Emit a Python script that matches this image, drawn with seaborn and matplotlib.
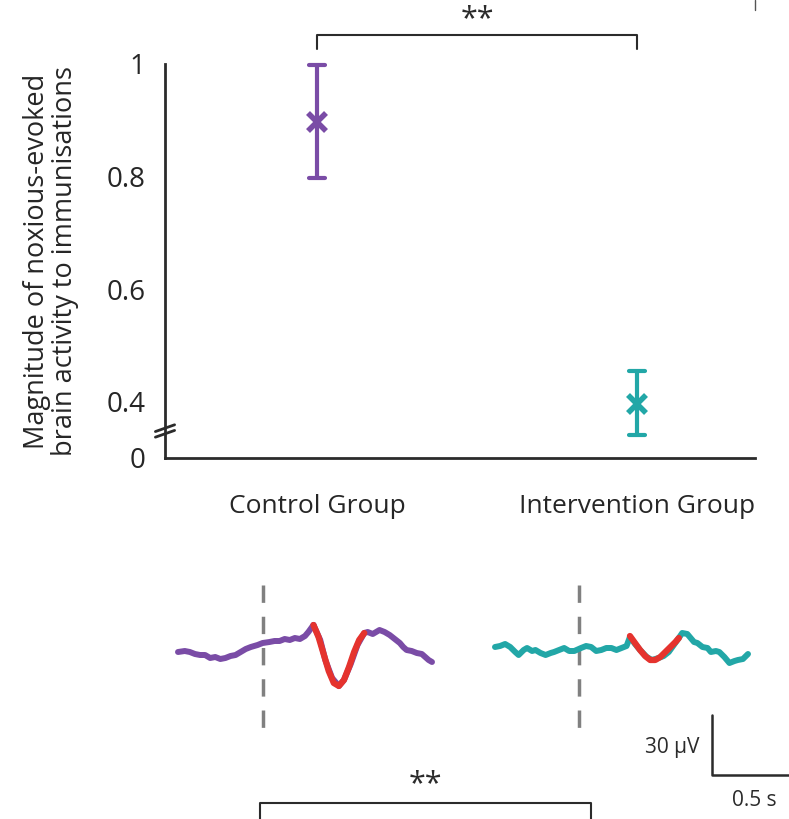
import matplotlib
matplotlib.use("Agg")
import matplotlib.pyplot as plt
import seaborn as sns
import pandas as pd
from matplotlib.lines import Line2D

# group summary values (mean with lower / upper limits of the error bar)
groups = ["Control Group", "Intervention Group"]
means = [0.897, 0.396]
lower = [0.797, 0.340]
upper = [0.998, 0.455]

# averaged traces (time in s, amplitude in µV)
control_t = [-0.50, -0.46, -0.43, -0.40, -0.37, -0.34, -0.31, -0.28, -0.25, -0.22,
             -0.19, -0.16, -0.13, -0.10, -0.07, -0.03, 0.00, 0.04, 0.07, 0.10,
             0.13, 0.16, 0.19, 0.22, 0.25, 0.27, 0.30]
control_a = [-1.0, -0.5, -1.0, -2.0, -2.5, -2.5, -4.0, -3.5, -4.5, -4.0,
             -3.0, -2.5, -1.0, 0.5, 1.5, 2.5, 3.5, 4.0, 4.5, 4.5,
             5.5, 5.0, 6.0, 5.5, 7.0, 9.0, 12.5]
control_t2 = [0.30, 0.34, 0.37, 0.41, 0.45, 0.48, 0.52, 0.56, 0.60, 0.62, 0.65,
              0.67, 0.69, 0.72, 0.75, 0.78, 0.81, 0.83, 0.85, 0.88, 0.91, 0.94,
              0.96, 0.98, 1.00]
control_a2 = [12.5, 5.0, -5.0, -14.0, -18.0, -15.0, -7.0, 2.5, 8.5, 9.0, 8.0,
              9.0, 10.0, 9.0, 7.5, 5.5, 3.5, 1.5, 0.0, -0.5, -1.5, -2.0,
              -3.5, -5.0, -6.0]
control_fit_t = [0.30, 0.33, 0.36, 0.39, 0.42, 0.45, 0.48, 0.51, 0.54, 0.57, 0.60]
control_fit_a = [12.5, 6.5, -2.0, -10.5, -16.5, -18.0, -15.0, -8.5, -1.0, 5.0, 8.5]

interv_t = [-0.50, -0.47, -0.44, -0.41, -0.38, -0.36, -0.33, -0.31, -0.28, -0.26,
            -0.23, -0.20, -0.17, -0.15, -0.12, -0.09, -0.06, -0.03, 0.01, 0.04,
            0.07, 0.10, 0.13, 0.16, 0.19, 0.22, 0.25, 0.28, 0.30]
interv_a = [1.5, 2.0, 3.0, 1.5, -1.0, -2.5, 0.0, 1.0, -0.5, 0.0,
            -1.5, -2.5, -1.5, -1.0, 0.0, 1.0, -0.5, -0.5, 1.0, 2.0,
            1.5, -0.5, 0.0, 1.0, 1.0, 0.0, 1.0, 2.0, 6.5]
interv_t2 = [0.30, 0.33, 0.36, 0.40, 0.43, 0.47, 0.50, 0.53, 0.56, 0.59, 0.61,
             0.64, 0.68, 0.70, 0.73, 0.76, 0.78, 0.81, 0.83, 0.86, 0.89, 0.92,
             0.94, 0.97, 1.00]
interv_a2 = [6.5, 3.0, 0.0, -3.5, -5.0, -4.0, -3.0, -1.0, 2.5, 6.0, 8.5,
             8.0, 4.0, 3.5, 1.5, 1.0, -1.0, -0.5, -1.0, -3.5, -6.5, -5.5,
             -5.0, -4.5, -2.0]
interv_fit_t = [0.30, 0.33, 0.36, 0.39, 0.42, 0.45, 0.48, 0.51, 0.54, 0.57, 0.59]
interv_fit_a = [7.0, 3.5, 0.0, -3.0, -5.0, -5.0, -3.5, -1.0, 1.5, 4.0, 6.0]

purple = "#7a4ca6"
teal = "#22a7a7"
red = "#e5332e"
dark = "#2b2b2b"

sns.set_style("white")
plt.rcParams["font.family"] = ["Open Sans", "DejaVu Sans"]
plt.rcParams["text.color"] = dark

fig = plt.figure(figsize=(7.89, 8.19), dpi=100)

# ---- top panel: summary points ----
ax = fig.add_axes([165 / 789, 1 - 458 / 819, 590 / 789, 394 / 819])
rows = []
for g, lo, m, hi in zip(groups, lower, means, upper):
    for v in (lo, m, hi):
        rows.append({"group": g, "value": v})
df = pd.DataFrame(rows)

sns.pointplot(data=df, x="group", y="value", hue="group",
              palette=[purple, teal], estimator="median",
              errorbar=lambda v: (v.min(), v.max()),
              markers="x", linestyles="none", capsize=0.05,
              err_kws={"linewidth": 3, "clip_on": False},
              markersize=13, markeredgewidth=4, legend=False, ax=ax)

ax.set_xlim(-0.475, 1.369)
ax.set_ylim(0.3, 1.0)
ax.set_yticks([0.3, 0.4, 0.6, 0.8, 1.0])
ax.set_yticklabels(["0", "0.4", "0.6", "0.8", "1"])
ax.set_xlabel("")
ax.set_ylabel("Magnitude of noxious-evoked\nbrain activity to immunisations",
              fontsize=19.5, linespacing=1.0)
ax.yaxis.set_label_coords(-0.145, 0.5)
for s in ["top", "right"]:
    ax.spines[s].set_visible(False)
for s in ["left", "bottom"]:
    ax.spines[s].set_linewidth(2)
    ax.spines[s].set_color(dark)
ax.tick_params(axis="y", direction="out", length=8, width=2, color=dark,
               labelsize=20, pad=6)
ax.tick_params(axis="x", direction="out", length=12, width=2, color=dark,
               labelsize=19, pad=14)

# axis break marks
for yb in (0.343, 0.353):
    ax.plot([-0.505, -0.445], [yb - 0.006, yb + 0.006], color=dark, lw=2,
            clip_on=False)

# significance bracket
ax.plot([0, 0, 1, 1], [1.027, 1.052, 1.052, 1.027], color=dark, lw=1.5,
        clip_on=False)
ax.text(0.5, 1.08, "**", ha="center", va="center", fontsize=22)

# ---- bottom panels: traces ----
ylo, yhi = -84.5, 35
axc = fig.add_axes([178 / 789, 0, 254 / 789, 239 / 819])
axi = fig.add_axes([495 / 789, 0, 253 / 789, 239 / 819])

for a, t1, a1, t2, a2, ft, fa, col in [
        (axc, control_t, control_a, control_t2, control_a2, control_fit_t, control_fit_a, purple),
        (axi, interv_t, interv_a, interv_t2, interv_a2, interv_fit_t, interv_fit_a, teal)]:
    a.plot([0, 0], [32.5, -43], color="#808080", lw=2.5,
           linestyle=(0, (5, 4)))
    sns.lineplot(x=t1, y=a1, ax=a, color=col, linewidth=4.3, clip_on=False)
    sns.lineplot(x=t2, y=a2, ax=a, color=col, linewidth=4.3, clip_on=False)
    sns.lineplot(x=ft, y=fa, ax=a, color=red, linewidth=4.5, clip_on=False)
    a.set_xlim(-0.5, 1.0)
    a.set_ylim(ylo, yhi)
    a.axis("off")

# scale bar
axi.plot([0.788, 0.788, 1.35], [-32.5, -62.5, -62.5], color=dark, lw=1.8,
         clip_on=False)
axi.text(0.71, -49, "30 µV", ha="right", va="center", fontsize=15)
axi.text(1.036, -75, "0.5 s", ha="center", va="center", fontsize=15)

# bottom bracket
fig.add_artist(Line2D([260 / 789, 260 / 789, 591 / 789, 591 / 789],
                      [-0.01, 1 - 803 / 819, 1 - 803 / 819, -0.01],
                      color=dark, lw=1.5))
fig.text(425 / 789, 1 - 784 / 819, "**", ha="center", va="center", fontsize=22)

# cut-off edge line top right
fig.add_artist(Line2D([755 / 789, 755 / 789], [1.0, 1 - 10 / 819],
                      color="#555555", lw=1))

fig.savefig("out.png", dpi=100)
